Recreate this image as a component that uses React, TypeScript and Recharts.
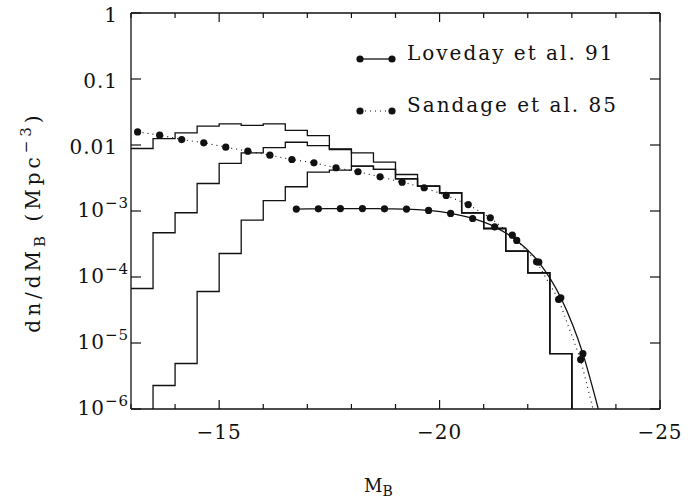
import React from 'react';
import { ComposedChart, Line, Scatter, XAxis, YAxis } from 'recharts';

const FONT = '"DejaVu Serif", serif';
const INK = '#111';
const FLOOR = 1e-6;

// histogram bins, lower edge in M_B, 0.5 mag wide
const binEdges = [-13, -13.5, -14, -14.5, -15, -15.5, -16, -16.5, -17, -17.5, -18, -18.5, -19, -19.5, -20, -20.5, -21, -21.5, -22, -22.5];
const binStep = -0.5;

const histUpper = [0.00885, 0.0125, 0.0153, 0.0193, 0.0209, 0.0199, 0.0209, 0.0166, 0.0139, 0.00875, 0.00762, 0.00549, 0.00357, 0.00238, 0.00189, 0.00094, 0.000543, 0.000246, 0.000116, 6.9e-6];
const histMiddle = [6.7e-5, 4.68e-4, 9.4e-4, 2.61e-3, 5.25e-3, 7.6e-3, 9.1e-3, 0.011, 0.0098, 0.00855, 0.00478, 0.00426, 0.00308, 0.00238, 0.00189, 0.00094, 0.000543, 0.000246, 0.000116, 6.9e-6];
const histLower = [null, 2.27e-6, 4.89e-6, 6.03e-5, 2.27e-4, 7.26e-4, 1.44e-3, 2.33e-3, 3.87e-3, 4.15e-3, 4.78e-3, 4.26e-3, 3.08e-3, 0.00238, 0.00189, 0.00094, 0.000543, 0.000246, 0.000116, 6.9e-6];

// Sandage et al. 85 points
const sandageMag = [-13.15, -13.65, -14.15, -14.65, -15.15, -15.65, -16.15, -16.65, -17.15, -17.65, -18.15, -18.65, -19.15, -19.65, -20.15, -20.65, -21.15, -21.65, -22.2, -22.7, -23.2];
const sandagePhi = [0.0158, 0.0141, 0.0121, 0.0108, 0.00926, 0.00805, 0.007, 0.00603, 0.00537, 0.00452, 0.00393, 0.0033, 0.00273, 0.00225, 0.00172, 0.00125, 7.9e-4, 4.3e-4, 1.7e-4, 4.57e-5, 5.6e-6];
const sandageTail = { m: -23.48, v: 1e-6 };

// Loveday et al. 91 points
const lovedayMag = [-16.75, -17.25, -17.75, -18.25, -18.75, -19.25, -19.75, -20.25, -20.75, -21.25, -21.75, -22.25, -22.75, -23.25];
const lovedayPhi = [1.07e-3, 1.08e-3, 1.09e-3, 1.09e-3, 1.08e-3, 1.07e-3, 1.02e-3, 9.2e-4, 7.7e-4, 5.76e-4, 3.58e-4, 1.68e-4, 4.84e-5, 6.9e-6];
const lovedayTail = { m: -23.6, v: 1e-6 };

const xTicks = [-13, -14, -15, -16, -17, -18, -19, -20, -21, -22, -23, -24, -25];
const yTicks = [1e-6, 1e-5, 1e-4, 1e-3, 0.01, 0.1, 1];

function histPoints(vals: (number | null)[]) {
  const pts: { m: number; v: number }[] = [];
  vals.forEach((v, i) => {
    if (v == null) return;
    if (pts.length === 0 && i > 0) pts.push({ m: binEdges[i], v: FLOOR });
    pts.push({ m: binEdges[i], v });
  });
  const end = binEdges[binEdges.length - 1] + binStep;
  pts.push({ m: end, v: vals[vals.length - 1] as number });
  pts.push({ m: end, v: FLOOR });
  return pts;
}

const sandagePts = sandageMag.map((m, i) => ({ m, v: sandagePhi[i] }));
const lovedayPts = lovedayMag.map((m, i) => ({ m, v: lovedayPhi[i] }));

function XTick(props: any) {
  const { x, y, payload, side } = props;
  const v = payload.value;
  const major = v % 5 === 0;
  const len = major ? 9 : 5;
  const dir = side === 'bottom' ? -1 : 1;
  return (
    <g>
      <line x1={x} y1={y} x2={x} y2={y + dir * len} stroke={INK} strokeWidth={1.2} />
      {side === 'bottom' && major && (
        <text x={x} y={y + 30} textAnchor="middle" fontFamily={FONT} fontSize={20} fill={INK} letterSpacing={1}>
          {'\u2212' + Math.abs(v)}
        </text>
      )}
    </g>
  );
}

function YTick(props: any) {
  const { x, y, payload, side } = props;
  const v = payload.value;
  const exp = Math.round(Math.log10(v));
  const dir = side === 'left' ? 1 : -1;
  return (
    <g>
      <line x1={x} y1={y} x2={x + dir * 10} y2={y} stroke={INK} strokeWidth={1.2} />
      {side === 'left' &&
        (exp >= -2 ? (
          <text x={x - 13} y={y + 9} textAnchor="end" fontFamily={FONT} fontSize={20} fill={INK} letterSpacing={1}>
            {String(v)}
          </text>
        ) : (
          <text x={x - 2} y={y + 6} textAnchor="end" fontFamily={FONT} fontSize={20} fill={INK} letterSpacing={1}>
            10
            <tspan dy={-9} fontSize={15}>{'\u2212' + Math.abs(exp)}</tspan>
          </text>
        ))}
    </g>
  );
}

const dotShape = (p: any) => <circle cx={p.cx} cy={p.cy} r={3.6} fill={INK} />;

export default function App() {
  const axisLine = { stroke: INK, strokeWidth: 1.3 };
  const upper = histPoints(histUpper);
  return (
    <div style={{ position: 'absolute', left: 0, top: 0, width: 695, height: 499, background: '#fff' }}>
      <ComposedChart width={695} height={499} margin={{ top: 12, right: 34, bottom: 0, left: 0 }}>
        <XAxis
          dataKey="m"
          type="number"
          domain={[-25, -13]}
          reversed
          allowDataOverflow
          ticks={xTicks}
          interval={0}
          height={90}
          tickSize={0}
          tickMargin={0}
          tickLine={false}
          axisLine={axisLine}
          tick={(p: any) => <XTick {...p} side="bottom" />}
        />
        <XAxis
          xAxisId="top"
          orientation="top"
          dataKey="m"
          type="number"
          domain={[-25, -13]}
          reversed
          allowDataOverflow
          ticks={xTicks}
          interval={0}
          height={1}
          tickSize={0}
          tickMargin={0}
          tickLine={false}
          axisLine={axisLine}
          tick={(p: any) => <XTick {...p} side="top" />}
        />
        <YAxis
          type="number"
          scale="log"
          domain={[1e-6, 1]}
          allowDataOverflow
          ticks={yTicks}
          interval={0}
          width={131}
          tickSize={0}
          tickMargin={0}
          tickLine={false}
          axisLine={axisLine}
          tick={(p: any) => <YTick {...p} side="left" />}
        />
        <YAxis
          yAxisId="right"
          orientation="right"
          type="number"
          scale="log"
          domain={[1e-6, 1]}
          allowDataOverflow
          ticks={yTicks}
          interval={0}
          width={1}
          tickSize={0}
          tickMargin={0}
          tickLine={false}
          axisLine={axisLine}
          tick={(p: any) => <YTick {...p} side="right" />}
        />

        {/* invisible copy bound to the mirrored axes so the frame gets drawn */}
        <Line xAxisId="top" yAxisId="right" data={upper} dataKey="v" type="stepAfter" stroke="none" dot={false} isAnimationActive={false} />

        <Line data={upper} dataKey="v" type="stepAfter" stroke={INK} strokeWidth={1.3} dot={false} isAnimationActive={false} />
        <Line data={histPoints(histMiddle)} dataKey="v" type="stepAfter" stroke={INK} strokeWidth={1.3} dot={false} isAnimationActive={false} />
        <Line data={histPoints(histLower)} dataKey="v" type="stepAfter" stroke={INK} strokeWidth={1.3} dot={false} isAnimationActive={false} />

        <Line data={[...sandagePts, sandageTail]} dataKey="v" type="linear" stroke={INK} strokeWidth={1.1} strokeDasharray="1 4" dot={false} isAnimationActive={false} />
        <Line data={[...lovedayPts, lovedayTail]} dataKey="v" type="monotone" stroke={INK} strokeWidth={1.3} dot={false} isAnimationActive={false} />
        <Scatter data={sandagePts} dataKey="v" shape={dotShape} isAnimationActive={false} />
        <Scatter data={lovedayPts} dataKey="v" shape={dotShape} isAnimationActive={false} />
      </ComposedChart>

      <svg width={695} height={499} style={{ position: 'absolute', left: 0, top: 0, pointerEvents: 'none' }}>
        <g fontFamily={FONT} fill={INK}>
          <line x1={360} y1={59} x2={392} y2={59} stroke={INK} strokeWidth={1.3} />
          <circle cx={360} cy={59} r={3.6} />
          <circle cx={392} cy={59} r={3.6} />
          <text x={407} y={60} fontSize={20} letterSpacing={2}>Loveday et al. 91</text>

          <line x1={360} y1={111} x2={392} y2={111} stroke={INK} strokeWidth={1.1} strokeDasharray="1 4" />
          <circle cx={360} cy={111} r={3.6} />
          <circle cx={392} cy={111} r={3.6} />
          <text x={407} y={112} fontSize={20} letterSpacing={2}>Sandage et al. 85</text>

          <text x={364} y={492} fontSize={18}>
            M<tspan dy={4} fontSize={14}>B</tspan>
          </text>

          <text transform="translate(40,222) rotate(-90)" textAnchor="middle" fontSize={20} letterSpacing={4}>
            dn/dM<tspan dy={5} fontSize={15}>B</tspan>
            <tspan dy={-5}> (Mpc</tspan>
            <tspan dy={-9} fontSize={15}>{'\u22123'}</tspan>
            <tspan dy={9}>)</tspan>
          </text>
        </g>
      </svg>
    </div>
  );
}
